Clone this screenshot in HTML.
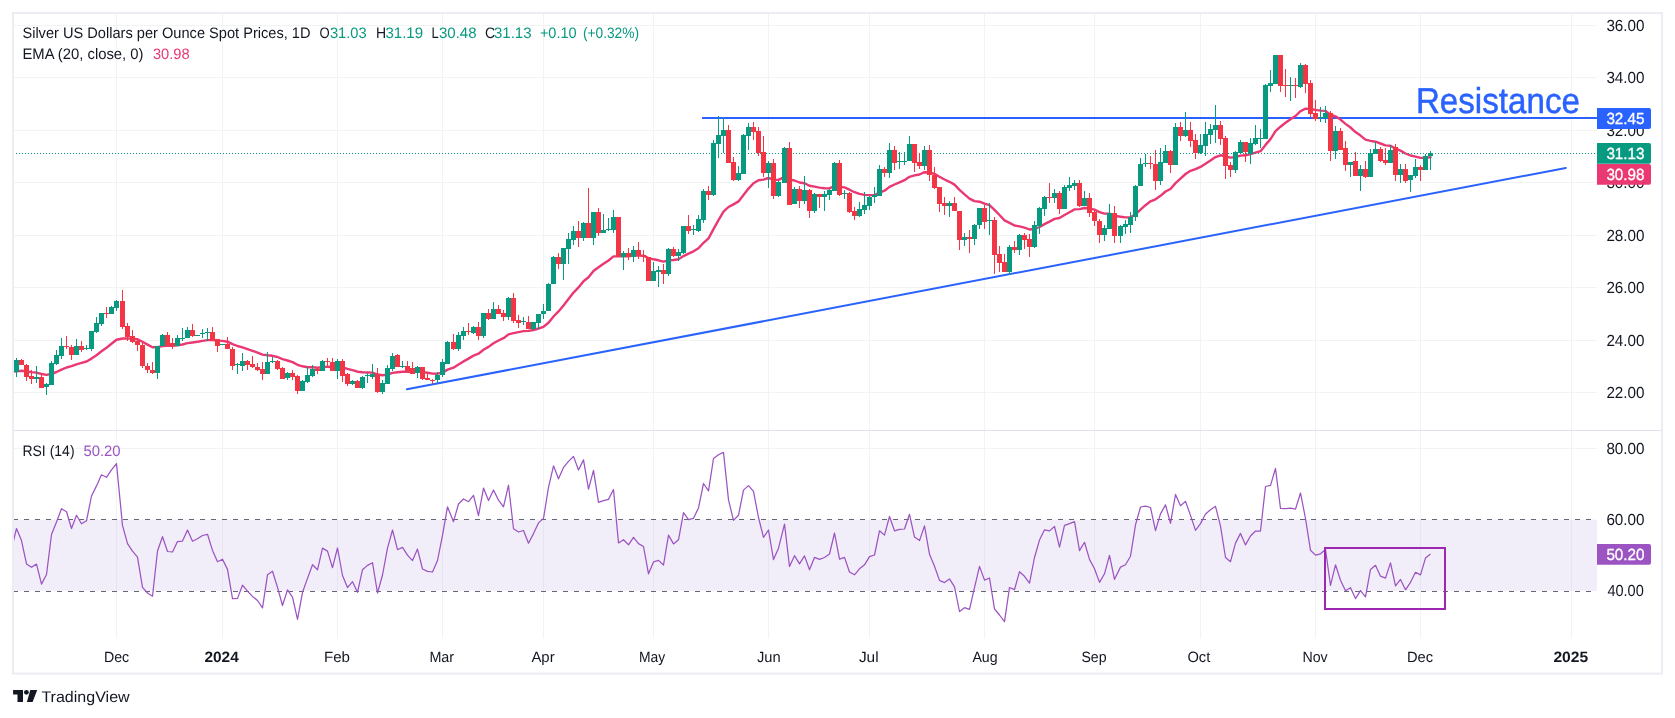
<!DOCTYPE html>
<html><head><meta charset="utf-8"><title>Silver chart</title>
<style>html,body{margin:0;padding:0;background:#fff;}body{width:1675px;height:718px;overflow:hidden;font-family:"Liberation Sans",sans-serif;}svg{display:block;will-change:transform;}</style>
</head><body>
<svg width="1675" height="718" viewBox="0 0 1675 718" font-family="Liberation Sans, sans-serif" text-rendering="geometricPrecision">
<defs><clipPath id="pane"><rect x="13" y="14" width="1584" height="624"/></clipPath></defs>
<rect x="0" y="0" width="1675" height="718" fill="#ffffff"/>
<line x1="14" x2="1597" y1="25.50" y2="25.50" stroke="#f2f4f4" stroke-width="1"/>
<line x1="14" x2="1597" y1="77.50" y2="77.50" stroke="#f2f4f4" stroke-width="1"/>
<line x1="14" x2="1597" y1="130.50" y2="130.50" stroke="#f2f4f4" stroke-width="1"/>
<line x1="14" x2="1597" y1="182.50" y2="182.50" stroke="#f2f4f4" stroke-width="1"/>
<line x1="14" x2="1597" y1="235.50" y2="235.50" stroke="#f2f4f4" stroke-width="1"/>
<line x1="14" x2="1597" y1="287.50" y2="287.50" stroke="#f2f4f4" stroke-width="1"/>
<line x1="14" x2="1597" y1="340.50" y2="340.50" stroke="#f2f4f4" stroke-width="1"/>
<line x1="14" x2="1597" y1="392.50" y2="392.50" stroke="#f2f4f4" stroke-width="1"/>
<line x1="116.5" x2="116.5" y1="13" y2="638.4" stroke="#f2f4f4" stroke-width="1"/>
<line x1="222.5" x2="222.5" y1="13" y2="638.4" stroke="#f2f4f4" stroke-width="1"/>
<line x1="337.5" x2="337.5" y1="13" y2="638.4" stroke="#f2f4f4" stroke-width="1"/>
<line x1="442.5" x2="442.5" y1="13" y2="638.4" stroke="#f2f4f4" stroke-width="1"/>
<line x1="543.5" x2="543.5" y1="13" y2="638.4" stroke="#f2f4f4" stroke-width="1"/>
<line x1="653.5" x2="653.5" y1="13" y2="638.4" stroke="#f2f4f4" stroke-width="1"/>
<line x1="768.5" x2="768.5" y1="13" y2="638.4" stroke="#f2f4f4" stroke-width="1"/>
<line x1="869.5" x2="869.5" y1="13" y2="638.4" stroke="#f2f4f4" stroke-width="1"/>
<line x1="984.5" x2="984.5" y1="13" y2="638.4" stroke="#f2f4f4" stroke-width="1"/>
<line x1="1094.5" x2="1094.5" y1="13" y2="638.4" stroke="#f2f4f4" stroke-width="1"/>
<line x1="1200.5" x2="1200.5" y1="13" y2="638.4" stroke="#f2f4f4" stroke-width="1"/>
<line x1="1315.5" x2="1315.5" y1="13" y2="638.4" stroke="#f2f4f4" stroke-width="1"/>
<line x1="1420.5" x2="1420.5" y1="13" y2="638.4" stroke="#f2f4f4" stroke-width="1"/>
<line x1="1571.5" x2="1571.5" y1="13" y2="638.4" stroke="#f2f4f4" stroke-width="1"/>
<line x1="14" x2="1597" y1="448.5" y2="448.5" stroke="#f2f4f4" stroke-width="1"/>
<rect x="14" y="519.60" width="1583" height="71.30" fill="#7e57c2" fill-opacity="0.1"/>
<line x1="13" x2="1597" y1="519.5" y2="519.5" stroke="#646772" stroke-width="1" stroke-dasharray="5 6"/>
<line x1="13" x2="1597" y1="591.5" y2="591.5" stroke="#646772" stroke-width="1" stroke-dasharray="5 6"/>
<line x1="13" x2="1662" y1="430.5" y2="430.5" stroke="#e0e3eb" stroke-width="1"/>
<line x1="702" x2="1597" y1="118" y2="118" stroke="#2962ff" stroke-width="2"/>
<line x1="406.9" y1="389.3" x2="1565.8" y2="168.0" stroke="#2962ff" stroke-width="2" stroke-linecap="round"/>
<polyline fill="none" stroke="#ea3873" stroke-width="2.4" stroke-linejoin="round" stroke-linecap="round" clip-path="url(#pane)" points="11.5,371.6 16.5,371.4 21.5,370.8 26.5,371.4 31.5,372.1 36.5,372.6 41.5,374.0 46.5,374.9 51.5,373.8 56.5,372.0 61.5,369.6 66.5,367.5 71.5,366.2 76.5,364.3 81.5,362.9 86.5,361.5 91.5,358.6 96.5,355.2 101.5,351.2 106.5,347.7 111.5,343.8 116.5,339.7 122.5,338.5 127.5,338.4 132.5,338.7 137.5,339.3 142.5,341.8 147.5,344.6 152.5,347.3 157.5,347.1 162.5,346.0 167.5,345.9 172.5,345.9 177.5,345.2 182.5,344.5 187.5,343.1 192.5,342.5 197.5,341.8 202.5,340.9 207.5,340.1 212.5,340.0 217.5,340.6 222.5,340.9 227.5,341.7 232.5,344.1 237.5,346.0 242.5,347.4 247.5,349.1 252.5,350.8 257.5,352.6 262.5,354.6 267.5,355.3 272.5,355.8 277.5,357.0 282.5,359.1 287.5,360.5 292.5,362.1 297.5,364.8 302.5,366.3 307.5,367.2 312.5,367.3 317.5,367.7 322.5,367.1 327.5,366.6 332.5,367.0 337.5,366.4 342.5,367.3 347.5,368.9 352.5,370.1 357.5,371.7 362.5,372.3 367.5,372.5 372.5,372.6 377.5,374.5 382.5,375.3 387.5,374.6 392.5,372.9 397.5,372.3 402.5,371.7 407.5,371.6 412.5,371.8 417.5,371.4 422.5,372.1 427.5,372.8 432.5,373.6 437.5,373.7 442.5,372.6 447.5,369.6 453.5,367.7 458.5,364.6 463.5,361.4 468.5,358.6 473.5,355.6 478.5,353.7 483.5,349.8 488.5,346.9 493.5,343.3 498.5,340.5 503.5,338.2 508.5,334.4 513.5,333.1 518.5,332.1 523.5,331.1 528.5,330.9 533.5,330.0 538.5,328.5 543.5,326.8 548.5,322.8 553.5,316.5 558.5,311.4 563.5,305.4 568.5,299.1 573.5,292.6 578.5,287.4 583.5,281.2 588.5,277.2 593.5,271.0 598.5,267.3 603.5,263.8 608.5,260.5 613.5,256.4 618.5,256.4 623.5,256.1 628.5,256.2 633.5,255.6 638.5,255.6 643.5,255.7 648.5,258.1 653.5,259.3 658.5,260.3 663.5,261.6 668.5,260.4 673.5,260.0 678.5,259.2 683.5,256.1 688.5,253.6 693.5,251.3 698.5,248.3 703.5,242.8 708.5,238.3 713.5,229.2 718.5,220.2 723.5,211.7 728.5,207.0 733.5,204.4 738.5,201.4 743.5,195.1 748.5,188.6 753.5,183.2 758.5,180.3 763.5,179.6 768.5,178.0 773.5,179.7 778.5,179.9 784.5,176.9 789.5,179.6 794.5,180.5 799.5,182.5 804.5,183.2 809.5,185.8 814.5,186.6 819.5,187.6 824.5,188.2 829.5,188.4 834.5,186.0 839.5,186.9 844.5,187.4 849.5,189.7 854.5,192.2 859.5,193.9 864.5,194.9 869.5,195.1 874.5,195.1 879.5,192.6 884.5,190.7 889.5,186.9 894.5,184.5 899.5,182.3 904.5,180.2 909.5,176.8 914.5,175.4 919.5,174.5 924.5,172.2 929.5,172.5 934.5,173.9 939.5,176.8 944.5,179.5 949.5,181.8 954.5,184.6 959.5,189.9 964.5,194.4 969.5,198.6 974.5,201.1 979.5,201.7 984.5,203.7 989.5,205.2 994.5,209.9 999.5,215.0 1004.5,220.4 1009.5,222.9 1014.5,225.5 1019.5,226.4 1024.5,227.6 1029.5,229.5 1034.5,229.0 1039.5,227.0 1044.5,224.1 1049.5,221.6 1054.5,218.9 1059.5,218.0 1064.5,215.0 1069.5,212.2 1074.5,209.4 1079.5,209.1 1084.5,208.0 1089.5,208.5 1094.5,209.7 1099.5,212.1 1104.5,213.6 1109.5,213.6 1114.5,215.8 1120.5,216.7 1125.5,217.4 1130.5,217.4 1135.5,214.4 1140.5,209.6 1145.5,205.2 1150.5,201.3 1155.5,199.3 1160.5,195.8 1165.5,191.5 1170.5,189.0 1175.5,183.1 1180.5,178.6 1185.5,174.0 1190.5,170.8 1195.5,169.1 1200.5,166.9 1205.5,163.7 1210.5,160.4 1215.5,157.1 1220.5,155.3 1225.5,156.3 1230.5,157.6 1235.5,157.1 1240.5,155.6 1245.5,155.3 1250.5,154.1 1255.5,152.6 1260.5,151.2 1265.5,144.9 1270.5,139.1 1275.5,131.1 1280.5,126.7 1285.5,122.8 1290.5,119.2 1295.5,116.0 1300.5,111.2 1305.5,108.6 1310.5,109.0 1315.5,109.9 1320.5,110.6 1325.5,110.9 1330.5,114.7 1335.5,116.3 1340.5,119.6 1345.5,123.9 1350.5,127.5 1355.5,132.1 1360.5,135.6 1365.5,139.6 1370.5,140.9 1375.5,141.7 1380.5,143.5 1385.5,145.4 1390.5,145.8 1395.5,148.6 1400.5,150.6 1405.5,153.5 1410.5,155.5 1415.5,156.6 1420.5,157.9 1425.5,157.7 1430.5,157.3"/>
<line x1="13" x2="1597" y1="153.5" y2="153.5" stroke="#089981" stroke-width="1" stroke-dasharray="1 2"/>
<rect x="16.00" y="358.00" width="1" height="19.00" fill="#089981"/>
<rect x="14.00" y="360.00" width="5" height="12.00" fill="#089981"/>
<rect x="21.00" y="359.00" width="1" height="6.00" fill="#f23645"/>
<rect x="19.00" y="360.00" width="5" height="5.00" fill="#f23645"/>
<rect x="26.00" y="364.00" width="1" height="17.00" fill="#f23645"/>
<rect x="24.00" y="365.00" width="5" height="12.00" fill="#f23645"/>
<rect x="31.00" y="370.00" width="1" height="14.00" fill="#f23645"/>
<rect x="29.00" y="376.00" width="5" height="3.00" fill="#f23645"/>
<rect x="36.00" y="366.00" width="1" height="17.00" fill="#089981"/>
<rect x="34.00" y="377.00" width="5" height="2.00" fill="#089981"/>
<rect x="41.00" y="374.00" width="1" height="14.00" fill="#f23645"/>
<rect x="39.00" y="377.00" width="5" height="11.00" fill="#f23645"/>
<rect x="46.00" y="383.00" width="1" height="12.00" fill="#089981"/>
<rect x="44.00" y="384.00" width="5" height="3.00" fill="#089981"/>
<rect x="51.00" y="361.00" width="1" height="24.00" fill="#089981"/>
<rect x="49.00" y="363.00" width="5" height="22.00" fill="#089981"/>
<rect x="56.00" y="350.00" width="1" height="15.00" fill="#089981"/>
<rect x="54.00" y="355.00" width="5" height="9.00" fill="#089981"/>
<rect x="61.00" y="338.00" width="1" height="21.00" fill="#089981"/>
<rect x="59.00" y="346.00" width="5" height="10.00" fill="#089981"/>
<rect x="66.00" y="336.00" width="1" height="13.00" fill="#f23645"/>
<rect x="64.00" y="346.00" width="5" height="1.00" fill="#f23645"/>
<rect x="71.00" y="345.00" width="1" height="15.00" fill="#f23645"/>
<rect x="69.00" y="347.00" width="5" height="8.00" fill="#f23645"/>
<rect x="76.00" y="339.00" width="1" height="16.00" fill="#089981"/>
<rect x="74.00" y="346.00" width="5" height="9.00" fill="#089981"/>
<rect x="81.00" y="341.00" width="1" height="11.00" fill="#f23645"/>
<rect x="79.00" y="346.00" width="5" height="4.00" fill="#f23645"/>
<rect x="86.00" y="345.00" width="1" height="5.00" fill="#089981"/>
<rect x="84.00" y="348.00" width="5" height="1.00" fill="#089981"/>
<rect x="91.00" y="331.00" width="1" height="20.00" fill="#089981"/>
<rect x="89.00" y="331.00" width="5" height="18.00" fill="#089981"/>
<rect x="96.00" y="317.00" width="1" height="16.00" fill="#089981"/>
<rect x="94.00" y="323.00" width="5" height="9.00" fill="#089981"/>
<rect x="101.00" y="313.00" width="1" height="13.00" fill="#089981"/>
<rect x="99.00" y="313.00" width="5" height="11.00" fill="#089981"/>
<rect x="106.00" y="307.00" width="1" height="11.00" fill="#f23645"/>
<rect x="104.00" y="313.00" width="5" height="1.00" fill="#f23645"/>
<rect x="111.00" y="306.00" width="1" height="8.00" fill="#089981"/>
<rect x="109.00" y="307.00" width="5" height="7.00" fill="#089981"/>
<rect x="116.00" y="300.00" width="1" height="11.00" fill="#089981"/>
<rect x="114.00" y="301.00" width="5" height="7.00" fill="#089981"/>
<rect x="122.00" y="290.00" width="1" height="39.00" fill="#f23645"/>
<rect x="120.00" y="301.00" width="5" height="26.00" fill="#f23645"/>
<rect x="127.00" y="323.00" width="1" height="18.00" fill="#f23645"/>
<rect x="125.00" y="326.00" width="5" height="11.00" fill="#f23645"/>
<rect x="132.00" y="330.00" width="1" height="13.00" fill="#f23645"/>
<rect x="130.00" y="336.00" width="5" height="6.00" fill="#f23645"/>
<rect x="137.00" y="338.00" width="1" height="13.00" fill="#f23645"/>
<rect x="135.00" y="341.00" width="5" height="4.00" fill="#f23645"/>
<rect x="142.00" y="343.00" width="1" height="25.00" fill="#f23645"/>
<rect x="140.00" y="345.00" width="5" height="21.00" fill="#f23645"/>
<rect x="147.00" y="363.00" width="1" height="10.00" fill="#f23645"/>
<rect x="145.00" y="366.00" width="5" height="4.00" fill="#f23645"/>
<rect x="152.00" y="362.00" width="1" height="12.00" fill="#f23645"/>
<rect x="150.00" y="370.00" width="5" height="3.00" fill="#f23645"/>
<rect x="157.00" y="346.00" width="1" height="33.00" fill="#089981"/>
<rect x="155.00" y="346.00" width="5" height="27.00" fill="#089981"/>
<rect x="162.00" y="334.00" width="1" height="12.00" fill="#089981"/>
<rect x="160.00" y="335.00" width="5" height="11.00" fill="#089981"/>
<rect x="167.00" y="332.00" width="1" height="14.00" fill="#f23645"/>
<rect x="165.00" y="335.00" width="5" height="10.00" fill="#f23645"/>
<rect x="172.00" y="338.00" width="1" height="11.00" fill="#f23645"/>
<rect x="170.00" y="343.00" width="5" height="3.00" fill="#f23645"/>
<rect x="177.00" y="335.00" width="1" height="11.00" fill="#089981"/>
<rect x="175.00" y="338.00" width="5" height="8.00" fill="#089981"/>
<rect x="182.00" y="328.00" width="1" height="13.00" fill="#089981"/>
<rect x="180.00" y="338.00" width="5" height="1.00" fill="#089981"/>
<rect x="187.00" y="327.00" width="1" height="11.00" fill="#089981"/>
<rect x="185.00" y="330.00" width="5" height="8.00" fill="#089981"/>
<rect x="192.00" y="324.00" width="1" height="13.00" fill="#f23645"/>
<rect x="190.00" y="330.00" width="5" height="6.00" fill="#f23645"/>
<rect x="197.00" y="335.00" width="1" height="1.00" fill="#089981"/>
<rect x="195.00" y="335.00" width="5" height="1.00" fill="#089981"/>
<rect x="202.00" y="329.00" width="1" height="9.00" fill="#089981"/>
<rect x="200.00" y="333.00" width="5" height="1.00" fill="#089981"/>
<rect x="207.00" y="328.00" width="1" height="13.00" fill="#089981"/>
<rect x="205.00" y="332.00" width="5" height="1.00" fill="#089981"/>
<rect x="212.00" y="327.00" width="1" height="14.00" fill="#f23645"/>
<rect x="210.00" y="332.00" width="5" height="8.00" fill="#f23645"/>
<rect x="217.00" y="339.00" width="1" height="13.00" fill="#f23645"/>
<rect x="215.00" y="339.00" width="5" height="7.00" fill="#f23645"/>
<rect x="222.00" y="344.00" width="1" height="1.00" fill="#089981"/>
<rect x="220.00" y="344.00" width="5" height="1.00" fill="#089981"/>
<rect x="227.00" y="337.00" width="1" height="12.00" fill="#f23645"/>
<rect x="225.00" y="344.00" width="5" height="5.00" fill="#f23645"/>
<rect x="232.00" y="347.00" width="1" height="23.00" fill="#f23645"/>
<rect x="230.00" y="349.00" width="5" height="17.00" fill="#f23645"/>
<rect x="237.00" y="363.00" width="1" height="11.00" fill="#089981"/>
<rect x="235.00" y="364.00" width="5" height="1.00" fill="#089981"/>
<rect x="242.00" y="353.00" width="1" height="18.00" fill="#089981"/>
<rect x="240.00" y="361.00" width="5" height="5.00" fill="#089981"/>
<rect x="247.00" y="360.00" width="1" height="10.00" fill="#f23645"/>
<rect x="245.00" y="361.00" width="5" height="4.00" fill="#f23645"/>
<rect x="252.00" y="356.00" width="1" height="12.00" fill="#f23645"/>
<rect x="250.00" y="364.00" width="5" height="3.00" fill="#f23645"/>
<rect x="257.00" y="363.00" width="1" height="8.00" fill="#f23645"/>
<rect x="255.00" y="367.00" width="5" height="3.00" fill="#f23645"/>
<rect x="262.00" y="362.00" width="1" height="18.00" fill="#f23645"/>
<rect x="260.00" y="369.00" width="5" height="5.00" fill="#f23645"/>
<rect x="267.00" y="352.00" width="1" height="22.00" fill="#089981"/>
<rect x="265.00" y="362.00" width="5" height="12.00" fill="#089981"/>
<rect x="272.00" y="357.00" width="1" height="6.00" fill="#089981"/>
<rect x="270.00" y="361.00" width="5" height="1.00" fill="#089981"/>
<rect x="277.00" y="360.00" width="1" height="10.00" fill="#f23645"/>
<rect x="275.00" y="361.00" width="5" height="8.00" fill="#f23645"/>
<rect x="282.00" y="367.00" width="1" height="12.00" fill="#f23645"/>
<rect x="280.00" y="368.00" width="5" height="11.00" fill="#f23645"/>
<rect x="287.00" y="372.00" width="1" height="8.00" fill="#089981"/>
<rect x="285.00" y="373.00" width="5" height="5.00" fill="#089981"/>
<rect x="292.00" y="370.00" width="1" height="10.00" fill="#f23645"/>
<rect x="290.00" y="373.00" width="5" height="4.00" fill="#f23645"/>
<rect x="297.00" y="375.00" width="1" height="19.00" fill="#f23645"/>
<rect x="295.00" y="376.00" width="5" height="15.00" fill="#f23645"/>
<rect x="302.00" y="380.00" width="1" height="11.00" fill="#089981"/>
<rect x="300.00" y="381.00" width="5" height="10.00" fill="#089981"/>
<rect x="307.00" y="367.00" width="1" height="16.00" fill="#089981"/>
<rect x="305.00" y="375.00" width="5" height="7.00" fill="#089981"/>
<rect x="312.00" y="365.00" width="1" height="12.00" fill="#089981"/>
<rect x="310.00" y="369.00" width="5" height="7.00" fill="#089981"/>
<rect x="317.00" y="367.00" width="1" height="7.00" fill="#f23645"/>
<rect x="315.00" y="369.00" width="5" height="2.00" fill="#f23645"/>
<rect x="322.00" y="360.00" width="1" height="11.00" fill="#089981"/>
<rect x="320.00" y="361.00" width="5" height="10.00" fill="#089981"/>
<rect x="327.00" y="358.00" width="1" height="8.00" fill="#f23645"/>
<rect x="325.00" y="361.00" width="5" height="1.00" fill="#f23645"/>
<rect x="332.00" y="358.00" width="1" height="13.00" fill="#f23645"/>
<rect x="330.00" y="362.00" width="5" height="9.00" fill="#f23645"/>
<rect x="337.00" y="359.00" width="1" height="20.00" fill="#089981"/>
<rect x="335.00" y="361.00" width="5" height="10.00" fill="#089981"/>
<rect x="342.00" y="359.00" width="1" height="23.00" fill="#f23645"/>
<rect x="340.00" y="361.00" width="5" height="15.00" fill="#f23645"/>
<rect x="347.00" y="373.00" width="1" height="13.00" fill="#f23645"/>
<rect x="345.00" y="374.00" width="5" height="10.00" fill="#f23645"/>
<rect x="352.00" y="380.00" width="1" height="5.00" fill="#089981"/>
<rect x="350.00" y="381.00" width="5" height="3.00" fill="#089981"/>
<rect x="357.00" y="380.00" width="1" height="8.00" fill="#f23645"/>
<rect x="355.00" y="381.00" width="5" height="7.00" fill="#f23645"/>
<rect x="362.00" y="376.00" width="1" height="13.00" fill="#089981"/>
<rect x="360.00" y="377.00" width="5" height="11.00" fill="#089981"/>
<rect x="367.00" y="373.00" width="1" height="10.00" fill="#089981"/>
<rect x="365.00" y="375.00" width="5" height="1.00" fill="#089981"/>
<rect x="372.00" y="364.00" width="1" height="15.00" fill="#089981"/>
<rect x="370.00" y="374.00" width="5" height="3.00" fill="#089981"/>
<rect x="377.00" y="368.00" width="1" height="25.00" fill="#f23645"/>
<rect x="375.00" y="374.00" width="5" height="18.00" fill="#f23645"/>
<rect x="382.00" y="380.00" width="1" height="14.00" fill="#089981"/>
<rect x="380.00" y="383.00" width="5" height="9.00" fill="#089981"/>
<rect x="387.00" y="365.00" width="1" height="19.00" fill="#089981"/>
<rect x="385.00" y="368.00" width="5" height="16.00" fill="#089981"/>
<rect x="392.00" y="353.00" width="1" height="18.00" fill="#089981"/>
<rect x="390.00" y="356.00" width="5" height="13.00" fill="#089981"/>
<rect x="397.00" y="354.00" width="1" height="13.00" fill="#f23645"/>
<rect x="395.00" y="355.00" width="5" height="12.00" fill="#f23645"/>
<rect x="402.00" y="361.00" width="1" height="7.00" fill="#089981"/>
<rect x="400.00" y="366.00" width="5" height="1.00" fill="#089981"/>
<rect x="407.00" y="361.00" width="1" height="11.00" fill="#f23645"/>
<rect x="405.00" y="366.00" width="5" height="5.00" fill="#f23645"/>
<rect x="412.00" y="362.00" width="1" height="12.00" fill="#f23645"/>
<rect x="410.00" y="368.00" width="5" height="6.00" fill="#f23645"/>
<rect x="417.00" y="366.00" width="1" height="12.00" fill="#089981"/>
<rect x="415.00" y="367.00" width="5" height="6.00" fill="#089981"/>
<rect x="422.00" y="367.00" width="1" height="13.00" fill="#f23645"/>
<rect x="420.00" y="367.00" width="5" height="12.00" fill="#f23645"/>
<rect x="427.00" y="372.00" width="1" height="8.00" fill="#f23645"/>
<rect x="425.00" y="378.00" width="5" height="2.00" fill="#f23645"/>
<rect x="432.00" y="379.00" width="1" height="5.00" fill="#f23645"/>
<rect x="430.00" y="380.00" width="5" height="1.00" fill="#f23645"/>
<rect x="437.00" y="372.00" width="1" height="11.00" fill="#089981"/>
<rect x="435.00" y="375.00" width="5" height="5.00" fill="#089981"/>
<rect x="442.00" y="359.00" width="1" height="18.00" fill="#089981"/>
<rect x="440.00" y="362.00" width="5" height="13.00" fill="#089981"/>
<rect x="447.00" y="341.00" width="1" height="23.00" fill="#089981"/>
<rect x="445.00" y="342.00" width="5" height="22.00" fill="#089981"/>
<rect x="453.00" y="334.00" width="1" height="16.00" fill="#f23645"/>
<rect x="451.00" y="342.00" width="5" height="7.00" fill="#f23645"/>
<rect x="458.00" y="332.00" width="1" height="19.00" fill="#089981"/>
<rect x="456.00" y="335.00" width="5" height="14.00" fill="#089981"/>
<rect x="463.00" y="327.00" width="1" height="13.00" fill="#089981"/>
<rect x="461.00" y="331.00" width="5" height="5.00" fill="#089981"/>
<rect x="468.00" y="323.00" width="1" height="12.00" fill="#f23645"/>
<rect x="466.00" y="331.00" width="5" height="1.00" fill="#f23645"/>
<rect x="473.00" y="326.00" width="1" height="8.00" fill="#089981"/>
<rect x="471.00" y="327.00" width="5" height="6.00" fill="#089981"/>
<rect x="478.00" y="322.00" width="1" height="18.00" fill="#f23645"/>
<rect x="476.00" y="327.00" width="5" height="9.00" fill="#f23645"/>
<rect x="483.00" y="313.00" width="1" height="25.00" fill="#089981"/>
<rect x="481.00" y="313.00" width="5" height="23.00" fill="#089981"/>
<rect x="488.00" y="309.00" width="1" height="11.00" fill="#f23645"/>
<rect x="486.00" y="313.00" width="5" height="6.00" fill="#f23645"/>
<rect x="493.00" y="302.00" width="1" height="17.00" fill="#089981"/>
<rect x="491.00" y="309.00" width="5" height="10.00" fill="#089981"/>
<rect x="498.00" y="305.00" width="1" height="9.00" fill="#f23645"/>
<rect x="496.00" y="309.00" width="5" height="5.00" fill="#f23645"/>
<rect x="503.00" y="310.00" width="1" height="11.00" fill="#f23645"/>
<rect x="501.00" y="313.00" width="5" height="4.00" fill="#f23645"/>
<rect x="508.00" y="297.00" width="1" height="23.00" fill="#089981"/>
<rect x="506.00" y="298.00" width="5" height="19.00" fill="#089981"/>
<rect x="513.00" y="293.00" width="1" height="30.00" fill="#f23645"/>
<rect x="511.00" y="298.00" width="5" height="23.00" fill="#f23645"/>
<rect x="518.00" y="315.00" width="1" height="13.00" fill="#f23645"/>
<rect x="516.00" y="320.00" width="5" height="3.00" fill="#f23645"/>
<rect x="523.00" y="317.00" width="1" height="8.00" fill="#089981"/>
<rect x="521.00" y="321.00" width="5" height="1.00" fill="#089981"/>
<rect x="528.00" y="316.00" width="1" height="13.00" fill="#f23645"/>
<rect x="526.00" y="322.00" width="5" height="7.00" fill="#f23645"/>
<rect x="533.00" y="322.00" width="1" height="8.00" fill="#089981"/>
<rect x="531.00" y="322.00" width="5" height="7.00" fill="#089981"/>
<rect x="538.00" y="314.00" width="1" height="15.00" fill="#089981"/>
<rect x="536.00" y="314.00" width="5" height="9.00" fill="#089981"/>
<rect x="543.00" y="304.00" width="1" height="15.00" fill="#089981"/>
<rect x="541.00" y="311.00" width="5" height="3.00" fill="#089981"/>
<rect x="548.00" y="283.00" width="1" height="28.00" fill="#089981"/>
<rect x="546.00" y="284.00" width="5" height="27.00" fill="#089981"/>
<rect x="553.00" y="256.00" width="1" height="28.00" fill="#089981"/>
<rect x="551.00" y="257.00" width="5" height="27.00" fill="#089981"/>
<rect x="558.00" y="253.00" width="1" height="16.00" fill="#f23645"/>
<rect x="556.00" y="257.00" width="5" height="7.00" fill="#f23645"/>
<rect x="563.00" y="248.00" width="1" height="32.00" fill="#089981"/>
<rect x="561.00" y="248.00" width="5" height="16.00" fill="#089981"/>
<rect x="568.00" y="233.00" width="1" height="31.00" fill="#089981"/>
<rect x="566.00" y="239.00" width="5" height="10.00" fill="#089981"/>
<rect x="573.00" y="226.00" width="1" height="19.00" fill="#089981"/>
<rect x="571.00" y="231.00" width="5" height="9.00" fill="#089981"/>
<rect x="578.00" y="221.00" width="1" height="26.00" fill="#f23645"/>
<rect x="576.00" y="231.00" width="5" height="7.00" fill="#f23645"/>
<rect x="583.00" y="222.00" width="1" height="19.00" fill="#089981"/>
<rect x="581.00" y="223.00" width="5" height="15.00" fill="#089981"/>
<rect x="588.00" y="188.00" width="1" height="50.00" fill="#f23645"/>
<rect x="586.00" y="223.00" width="5" height="15.00" fill="#f23645"/>
<rect x="593.00" y="212.00" width="1" height="33.00" fill="#089981"/>
<rect x="591.00" y="212.00" width="5" height="26.00" fill="#089981"/>
<rect x="598.00" y="208.00" width="1" height="28.00" fill="#f23645"/>
<rect x="596.00" y="212.00" width="5" height="21.00" fill="#f23645"/>
<rect x="603.00" y="214.00" width="1" height="19.00" fill="#089981"/>
<rect x="601.00" y="230.00" width="5" height="3.00" fill="#089981"/>
<rect x="608.00" y="218.00" width="1" height="13.00" fill="#089981"/>
<rect x="606.00" y="229.00" width="5" height="1.00" fill="#089981"/>
<rect x="613.00" y="210.00" width="1" height="23.00" fill="#089981"/>
<rect x="611.00" y="217.00" width="5" height="13.00" fill="#089981"/>
<rect x="618.00" y="217.00" width="1" height="40.00" fill="#f23645"/>
<rect x="616.00" y="217.00" width="5" height="40.00" fill="#f23645"/>
<rect x="623.00" y="251.00" width="1" height="19.00" fill="#089981"/>
<rect x="621.00" y="253.00" width="5" height="4.00" fill="#089981"/>
<rect x="628.00" y="248.00" width="1" height="12.00" fill="#f23645"/>
<rect x="626.00" y="253.00" width="5" height="4.00" fill="#f23645"/>
<rect x="633.00" y="246.00" width="1" height="16.00" fill="#089981"/>
<rect x="631.00" y="250.00" width="5" height="7.00" fill="#089981"/>
<rect x="638.00" y="242.00" width="1" height="17.00" fill="#f23645"/>
<rect x="636.00" y="250.00" width="5" height="5.00" fill="#f23645"/>
<rect x="643.00" y="250.00" width="1" height="12.00" fill="#f23645"/>
<rect x="641.00" y="255.00" width="5" height="2.00" fill="#f23645"/>
<rect x="648.00" y="257.00" width="1" height="24.00" fill="#f23645"/>
<rect x="646.00" y="257.00" width="5" height="24.00" fill="#f23645"/>
<rect x="653.00" y="262.00" width="1" height="19.00" fill="#089981"/>
<rect x="651.00" y="271.00" width="5" height="10.00" fill="#089981"/>
<rect x="658.00" y="266.00" width="1" height="21.00" fill="#089981"/>
<rect x="656.00" y="270.00" width="5" height="2.00" fill="#089981"/>
<rect x="663.00" y="264.00" width="1" height="20.00" fill="#f23645"/>
<rect x="661.00" y="270.00" width="5" height="4.00" fill="#f23645"/>
<rect x="668.00" y="248.00" width="1" height="28.00" fill="#089981"/>
<rect x="666.00" y="249.00" width="5" height="25.00" fill="#089981"/>
<rect x="673.00" y="247.00" width="1" height="10.00" fill="#f23645"/>
<rect x="671.00" y="249.00" width="5" height="7.00" fill="#f23645"/>
<rect x="678.00" y="249.00" width="1" height="12.00" fill="#089981"/>
<rect x="676.00" y="252.00" width="5" height="4.00" fill="#089981"/>
<rect x="683.00" y="226.00" width="1" height="28.00" fill="#089981"/>
<rect x="681.00" y="226.00" width="5" height="27.00" fill="#089981"/>
<rect x="688.00" y="215.00" width="1" height="19.00" fill="#f23645"/>
<rect x="686.00" y="226.00" width="5" height="5.00" fill="#f23645"/>
<rect x="693.00" y="225.00" width="1" height="10.00" fill="#089981"/>
<rect x="691.00" y="229.00" width="5" height="1.00" fill="#089981"/>
<rect x="698.00" y="215.00" width="1" height="17.00" fill="#089981"/>
<rect x="696.00" y="219.00" width="5" height="12.00" fill="#089981"/>
<rect x="703.00" y="189.00" width="1" height="34.00" fill="#089981"/>
<rect x="701.00" y="191.00" width="5" height="29.00" fill="#089981"/>
<rect x="708.00" y="186.00" width="1" height="14.00" fill="#f23645"/>
<rect x="706.00" y="191.00" width="5" height="4.00" fill="#f23645"/>
<rect x="713.00" y="140.00" width="1" height="56.00" fill="#089981"/>
<rect x="711.00" y="143.00" width="5" height="52.00" fill="#089981"/>
<rect x="718.00" y="116.00" width="1" height="42.00" fill="#089981"/>
<rect x="716.00" y="135.00" width="5" height="9.00" fill="#089981"/>
<rect x="723.00" y="117.00" width="1" height="36.00" fill="#089981"/>
<rect x="721.00" y="130.00" width="5" height="6.00" fill="#089981"/>
<rect x="728.00" y="125.00" width="1" height="38.00" fill="#f23645"/>
<rect x="726.00" y="130.00" width="5" height="33.00" fill="#f23645"/>
<rect x="733.00" y="157.00" width="1" height="24.00" fill="#f23645"/>
<rect x="731.00" y="162.00" width="5" height="18.00" fill="#f23645"/>
<rect x="738.00" y="166.00" width="1" height="15.00" fill="#089981"/>
<rect x="736.00" y="173.00" width="5" height="7.00" fill="#089981"/>
<rect x="743.00" y="134.00" width="1" height="40.00" fill="#089981"/>
<rect x="741.00" y="135.00" width="5" height="39.00" fill="#089981"/>
<rect x="748.00" y="123.00" width="1" height="27.00" fill="#089981"/>
<rect x="746.00" y="127.00" width="5" height="9.00" fill="#089981"/>
<rect x="753.00" y="122.00" width="1" height="18.00" fill="#f23645"/>
<rect x="751.00" y="127.00" width="5" height="5.00" fill="#f23645"/>
<rect x="758.00" y="127.00" width="1" height="29.00" fill="#f23645"/>
<rect x="756.00" y="131.00" width="5" height="22.00" fill="#f23645"/>
<rect x="763.00" y="136.00" width="1" height="41.00" fill="#f23645"/>
<rect x="761.00" y="152.00" width="5" height="21.00" fill="#f23645"/>
<rect x="768.00" y="161.00" width="1" height="27.00" fill="#089981"/>
<rect x="766.00" y="163.00" width="5" height="10.00" fill="#089981"/>
<rect x="773.00" y="159.00" width="1" height="40.00" fill="#f23645"/>
<rect x="771.00" y="163.00" width="5" height="33.00" fill="#f23645"/>
<rect x="778.00" y="181.00" width="1" height="16.00" fill="#089981"/>
<rect x="776.00" y="182.00" width="5" height="14.00" fill="#089981"/>
<rect x="784.00" y="147.00" width="1" height="36.00" fill="#089981"/>
<rect x="782.00" y="148.00" width="5" height="35.00" fill="#089981"/>
<rect x="789.00" y="142.00" width="1" height="63.00" fill="#f23645"/>
<rect x="787.00" y="148.00" width="5" height="57.00" fill="#f23645"/>
<rect x="794.00" y="187.00" width="1" height="17.00" fill="#089981"/>
<rect x="792.00" y="189.00" width="5" height="15.00" fill="#089981"/>
<rect x="799.00" y="186.00" width="1" height="22.00" fill="#f23645"/>
<rect x="797.00" y="189.00" width="5" height="12.00" fill="#f23645"/>
<rect x="804.00" y="176.00" width="1" height="28.00" fill="#089981"/>
<rect x="802.00" y="190.00" width="5" height="11.00" fill="#089981"/>
<rect x="809.00" y="189.00" width="1" height="29.00" fill="#f23645"/>
<rect x="807.00" y="190.00" width="5" height="21.00" fill="#f23645"/>
<rect x="814.00" y="193.00" width="1" height="20.00" fill="#089981"/>
<rect x="812.00" y="194.00" width="5" height="17.00" fill="#089981"/>
<rect x="819.00" y="194.00" width="1" height="14.00" fill="#f23645"/>
<rect x="817.00" y="194.00" width="5" height="3.00" fill="#f23645"/>
<rect x="824.00" y="191.00" width="1" height="20.00" fill="#089981"/>
<rect x="822.00" y="194.00" width="5" height="3.00" fill="#089981"/>
<rect x="829.00" y="189.00" width="1" height="11.00" fill="#089981"/>
<rect x="827.00" y="190.00" width="5" height="5.00" fill="#089981"/>
<rect x="834.00" y="162.00" width="1" height="29.00" fill="#089981"/>
<rect x="832.00" y="163.00" width="5" height="28.00" fill="#089981"/>
<rect x="839.00" y="160.00" width="1" height="36.00" fill="#f23645"/>
<rect x="837.00" y="163.00" width="5" height="32.00" fill="#f23645"/>
<rect x="844.00" y="190.00" width="1" height="9.00" fill="#089981"/>
<rect x="842.00" y="193.00" width="5" height="1.00" fill="#089981"/>
<rect x="849.00" y="192.00" width="1" height="21.00" fill="#f23645"/>
<rect x="847.00" y="193.00" width="5" height="19.00" fill="#f23645"/>
<rect x="854.00" y="207.00" width="1" height="13.00" fill="#f23645"/>
<rect x="852.00" y="211.00" width="5" height="5.00" fill="#f23645"/>
<rect x="859.00" y="202.00" width="1" height="15.00" fill="#089981"/>
<rect x="857.00" y="209.00" width="5" height="7.00" fill="#089981"/>
<rect x="864.00" y="192.00" width="1" height="22.00" fill="#089981"/>
<rect x="862.00" y="205.00" width="5" height="5.00" fill="#089981"/>
<rect x="869.00" y="196.00" width="1" height="14.00" fill="#089981"/>
<rect x="867.00" y="197.00" width="5" height="9.00" fill="#089981"/>
<rect x="874.00" y="187.00" width="1" height="16.00" fill="#089981"/>
<rect x="872.00" y="195.00" width="5" height="2.00" fill="#089981"/>
<rect x="879.00" y="165.00" width="1" height="31.00" fill="#089981"/>
<rect x="877.00" y="169.00" width="5" height="27.00" fill="#089981"/>
<rect x="884.00" y="167.00" width="1" height="10.00" fill="#f23645"/>
<rect x="882.00" y="169.00" width="5" height="4.00" fill="#f23645"/>
<rect x="889.00" y="143.00" width="1" height="35.00" fill="#089981"/>
<rect x="887.00" y="150.00" width="5" height="23.00" fill="#089981"/>
<rect x="894.00" y="146.00" width="1" height="24.00" fill="#f23645"/>
<rect x="892.00" y="150.00" width="5" height="13.00" fill="#f23645"/>
<rect x="899.00" y="152.00" width="1" height="17.00" fill="#089981"/>
<rect x="897.00" y="161.00" width="5" height="1.00" fill="#089981"/>
<rect x="904.00" y="152.00" width="1" height="13.00" fill="#089981"/>
<rect x="902.00" y="161.00" width="5" height="1.00" fill="#089981"/>
<rect x="909.00" y="136.00" width="1" height="25.00" fill="#089981"/>
<rect x="907.00" y="144.00" width="5" height="17.00" fill="#089981"/>
<rect x="914.00" y="144.00" width="1" height="28.00" fill="#f23645"/>
<rect x="912.00" y="144.00" width="5" height="19.00" fill="#f23645"/>
<rect x="919.00" y="153.00" width="1" height="16.00" fill="#f23645"/>
<rect x="917.00" y="162.00" width="5" height="4.00" fill="#f23645"/>
<rect x="924.00" y="146.00" width="1" height="24.00" fill="#089981"/>
<rect x="922.00" y="150.00" width="5" height="16.00" fill="#089981"/>
<rect x="929.00" y="145.00" width="1" height="36.00" fill="#f23645"/>
<rect x="927.00" y="150.00" width="5" height="25.00" fill="#f23645"/>
<rect x="934.00" y="167.00" width="1" height="22.00" fill="#f23645"/>
<rect x="932.00" y="175.00" width="5" height="13.00" fill="#f23645"/>
<rect x="939.00" y="187.00" width="1" height="25.00" fill="#f23645"/>
<rect x="937.00" y="187.00" width="5" height="17.00" fill="#f23645"/>
<rect x="944.00" y="197.00" width="1" height="18.00" fill="#f23645"/>
<rect x="942.00" y="203.00" width="5" height="3.00" fill="#f23645"/>
<rect x="949.00" y="201.00" width="1" height="16.00" fill="#089981"/>
<rect x="947.00" y="203.00" width="5" height="3.00" fill="#089981"/>
<rect x="954.00" y="197.00" width="1" height="14.00" fill="#f23645"/>
<rect x="952.00" y="203.00" width="5" height="8.00" fill="#f23645"/>
<rect x="959.00" y="211.00" width="1" height="39.00" fill="#f23645"/>
<rect x="957.00" y="211.00" width="5" height="29.00" fill="#f23645"/>
<rect x="964.00" y="233.00" width="1" height="13.00" fill="#089981"/>
<rect x="962.00" y="237.00" width="5" height="3.00" fill="#089981"/>
<rect x="969.00" y="230.00" width="1" height="23.00" fill="#f23645"/>
<rect x="967.00" y="237.00" width="5" height="2.00" fill="#f23645"/>
<rect x="974.00" y="224.00" width="1" height="21.00" fill="#089981"/>
<rect x="972.00" y="225.00" width="5" height="14.00" fill="#089981"/>
<rect x="979.00" y="208.00" width="1" height="21.00" fill="#089981"/>
<rect x="977.00" y="208.00" width="5" height="17.00" fill="#089981"/>
<rect x="984.00" y="205.00" width="1" height="24.00" fill="#f23645"/>
<rect x="982.00" y="208.00" width="5" height="14.00" fill="#f23645"/>
<rect x="989.00" y="203.00" width="1" height="32.00" fill="#089981"/>
<rect x="987.00" y="220.00" width="5" height="1.00" fill="#089981"/>
<rect x="994.00" y="217.00" width="1" height="57.00" fill="#f23645"/>
<rect x="992.00" y="220.00" width="5" height="35.00" fill="#f23645"/>
<rect x="999.00" y="246.00" width="1" height="26.00" fill="#f23645"/>
<rect x="997.00" y="254.00" width="5" height="9.00" fill="#f23645"/>
<rect x="1004.00" y="254.00" width="1" height="18.00" fill="#f23645"/>
<rect x="1002.00" y="262.00" width="5" height="10.00" fill="#f23645"/>
<rect x="1009.00" y="245.00" width="1" height="30.00" fill="#089981"/>
<rect x="1007.00" y="247.00" width="5" height="25.00" fill="#089981"/>
<rect x="1014.00" y="241.00" width="1" height="12.00" fill="#f23645"/>
<rect x="1012.00" y="247.00" width="5" height="3.00" fill="#f23645"/>
<rect x="1019.00" y="234.00" width="1" height="21.00" fill="#089981"/>
<rect x="1017.00" y="235.00" width="5" height="15.00" fill="#089981"/>
<rect x="1024.00" y="233.00" width="1" height="16.00" fill="#f23645"/>
<rect x="1022.00" y="235.00" width="5" height="5.00" fill="#f23645"/>
<rect x="1029.00" y="234.00" width="1" height="23.00" fill="#f23645"/>
<rect x="1027.00" y="239.00" width="5" height="8.00" fill="#f23645"/>
<rect x="1034.00" y="221.00" width="1" height="27.00" fill="#089981"/>
<rect x="1032.00" y="225.00" width="5" height="22.00" fill="#089981"/>
<rect x="1039.00" y="207.00" width="1" height="27.00" fill="#089981"/>
<rect x="1037.00" y="208.00" width="5" height="18.00" fill="#089981"/>
<rect x="1044.00" y="196.00" width="1" height="20.00" fill="#089981"/>
<rect x="1042.00" y="197.00" width="5" height="12.00" fill="#089981"/>
<rect x="1049.00" y="183.00" width="1" height="20.00" fill="#f23645"/>
<rect x="1047.00" y="197.00" width="5" height="1.00" fill="#f23645"/>
<rect x="1054.00" y="189.00" width="1" height="14.00" fill="#089981"/>
<rect x="1052.00" y="193.00" width="5" height="5.00" fill="#089981"/>
<rect x="1059.00" y="191.00" width="1" height="23.00" fill="#f23645"/>
<rect x="1057.00" y="193.00" width="5" height="16.00" fill="#f23645"/>
<rect x="1064.00" y="185.00" width="1" height="24.00" fill="#089981"/>
<rect x="1062.00" y="187.00" width="5" height="22.00" fill="#089981"/>
<rect x="1069.00" y="177.00" width="1" height="14.00" fill="#089981"/>
<rect x="1067.00" y="185.00" width="5" height="3.00" fill="#089981"/>
<rect x="1074.00" y="180.00" width="1" height="10.00" fill="#089981"/>
<rect x="1072.00" y="183.00" width="5" height="3.00" fill="#089981"/>
<rect x="1079.00" y="180.00" width="1" height="27.00" fill="#f23645"/>
<rect x="1077.00" y="183.00" width="5" height="23.00" fill="#f23645"/>
<rect x="1084.00" y="191.00" width="1" height="15.00" fill="#089981"/>
<rect x="1082.00" y="198.00" width="5" height="8.00" fill="#089981"/>
<rect x="1089.00" y="193.00" width="1" height="24.00" fill="#f23645"/>
<rect x="1087.00" y="198.00" width="5" height="15.00" fill="#f23645"/>
<rect x="1094.00" y="210.00" width="1" height="16.00" fill="#f23645"/>
<rect x="1092.00" y="212.00" width="5" height="9.00" fill="#f23645"/>
<rect x="1099.00" y="219.00" width="1" height="24.00" fill="#f23645"/>
<rect x="1097.00" y="221.00" width="5" height="14.00" fill="#f23645"/>
<rect x="1104.00" y="225.00" width="1" height="16.00" fill="#089981"/>
<rect x="1102.00" y="228.00" width="5" height="7.00" fill="#089981"/>
<rect x="1109.00" y="204.00" width="1" height="25.00" fill="#089981"/>
<rect x="1107.00" y="213.00" width="5" height="16.00" fill="#089981"/>
<rect x="1114.00" y="206.00" width="1" height="37.00" fill="#f23645"/>
<rect x="1112.00" y="213.00" width="5" height="23.00" fill="#f23645"/>
<rect x="1120.00" y="225.00" width="1" height="18.00" fill="#089981"/>
<rect x="1118.00" y="226.00" width="5" height="10.00" fill="#089981"/>
<rect x="1125.00" y="220.00" width="1" height="14.00" fill="#089981"/>
<rect x="1123.00" y="224.00" width="5" height="3.00" fill="#089981"/>
<rect x="1130.00" y="212.00" width="1" height="21.00" fill="#089981"/>
<rect x="1128.00" y="217.00" width="5" height="8.00" fill="#089981"/>
<rect x="1135.00" y="185.00" width="1" height="36.00" fill="#089981"/>
<rect x="1133.00" y="186.00" width="5" height="31.00" fill="#089981"/>
<rect x="1140.00" y="158.00" width="1" height="28.00" fill="#089981"/>
<rect x="1138.00" y="164.00" width="5" height="22.00" fill="#089981"/>
<rect x="1145.00" y="154.00" width="1" height="13.00" fill="#089981"/>
<rect x="1143.00" y="163.00" width="5" height="1.00" fill="#089981"/>
<rect x="1150.00" y="156.00" width="1" height="13.00" fill="#f23645"/>
<rect x="1148.00" y="163.00" width="5" height="1.00" fill="#f23645"/>
<rect x="1155.00" y="150.00" width="1" height="40.00" fill="#f23645"/>
<rect x="1153.00" y="164.00" width="5" height="17.00" fill="#f23645"/>
<rect x="1160.00" y="148.00" width="1" height="37.00" fill="#089981"/>
<rect x="1158.00" y="162.00" width="5" height="19.00" fill="#089981"/>
<rect x="1165.00" y="145.00" width="1" height="18.00" fill="#089981"/>
<rect x="1163.00" y="151.00" width="5" height="12.00" fill="#089981"/>
<rect x="1170.00" y="150.00" width="1" height="23.00" fill="#f23645"/>
<rect x="1168.00" y="151.00" width="5" height="14.00" fill="#f23645"/>
<rect x="1175.00" y="123.00" width="1" height="42.00" fill="#089981"/>
<rect x="1173.00" y="127.00" width="5" height="38.00" fill="#089981"/>
<rect x="1180.00" y="122.00" width="1" height="19.00" fill="#f23645"/>
<rect x="1178.00" y="127.00" width="5" height="9.00" fill="#f23645"/>
<rect x="1185.00" y="112.00" width="1" height="25.00" fill="#089981"/>
<rect x="1183.00" y="130.00" width="5" height="6.00" fill="#089981"/>
<rect x="1190.00" y="122.00" width="1" height="25.00" fill="#f23645"/>
<rect x="1188.00" y="130.00" width="5" height="11.00" fill="#f23645"/>
<rect x="1195.00" y="134.00" width="1" height="25.00" fill="#f23645"/>
<rect x="1193.00" y="140.00" width="5" height="13.00" fill="#f23645"/>
<rect x="1200.00" y="134.00" width="1" height="20.00" fill="#089981"/>
<rect x="1198.00" y="145.00" width="5" height="8.00" fill="#089981"/>
<rect x="1205.00" y="122.00" width="1" height="34.00" fill="#089981"/>
<rect x="1203.00" y="134.00" width="5" height="12.00" fill="#089981"/>
<rect x="1210.00" y="124.00" width="1" height="20.00" fill="#089981"/>
<rect x="1208.00" y="129.00" width="5" height="6.00" fill="#089981"/>
<rect x="1215.00" y="105.00" width="1" height="38.00" fill="#089981"/>
<rect x="1213.00" y="125.00" width="5" height="5.00" fill="#089981"/>
<rect x="1220.00" y="121.00" width="1" height="24.00" fill="#f23645"/>
<rect x="1218.00" y="125.00" width="5" height="14.00" fill="#f23645"/>
<rect x="1225.00" y="136.00" width="1" height="43.00" fill="#f23645"/>
<rect x="1223.00" y="138.00" width="5" height="28.00" fill="#f23645"/>
<rect x="1230.00" y="162.00" width="1" height="15.00" fill="#f23645"/>
<rect x="1228.00" y="165.00" width="5" height="5.00" fill="#f23645"/>
<rect x="1235.00" y="151.00" width="1" height="22.00" fill="#089981"/>
<rect x="1233.00" y="152.00" width="5" height="18.00" fill="#089981"/>
<rect x="1240.00" y="140.00" width="1" height="14.00" fill="#089981"/>
<rect x="1238.00" y="142.00" width="5" height="11.00" fill="#089981"/>
<rect x="1245.00" y="142.00" width="1" height="20.00" fill="#f23645"/>
<rect x="1243.00" y="142.00" width="5" height="10.00" fill="#f23645"/>
<rect x="1250.00" y="138.00" width="1" height="26.00" fill="#089981"/>
<rect x="1248.00" y="143.00" width="5" height="11.00" fill="#089981"/>
<rect x="1255.00" y="125.00" width="1" height="20.00" fill="#089981"/>
<rect x="1253.00" y="138.00" width="5" height="6.00" fill="#089981"/>
<rect x="1260.00" y="129.00" width="1" height="19.00" fill="#089981"/>
<rect x="1258.00" y="138.00" width="5" height="1.00" fill="#089981"/>
<rect x="1265.00" y="84.00" width="1" height="55.00" fill="#089981"/>
<rect x="1263.00" y="85.00" width="5" height="54.00" fill="#089981"/>
<rect x="1270.00" y="70.00" width="1" height="22.00" fill="#089981"/>
<rect x="1268.00" y="83.00" width="5" height="3.00" fill="#089981"/>
<rect x="1275.00" y="55.00" width="1" height="29.00" fill="#089981"/>
<rect x="1273.00" y="55.00" width="5" height="29.00" fill="#089981"/>
<rect x="1280.00" y="55.00" width="1" height="37.00" fill="#f23645"/>
<rect x="1278.00" y="55.00" width="5" height="31.00" fill="#f23645"/>
<rect x="1285.00" y="69.00" width="1" height="28.00" fill="#f23645"/>
<rect x="1283.00" y="85.00" width="5" height="1.00" fill="#f23645"/>
<rect x="1290.00" y="77.00" width="1" height="24.00" fill="#089981"/>
<rect x="1288.00" y="85.00" width="5" height="1.00" fill="#089981"/>
<rect x="1295.00" y="78.00" width="1" height="20.00" fill="#f23645"/>
<rect x="1293.00" y="85.00" width="5" height="1.00" fill="#f23645"/>
<rect x="1300.00" y="63.00" width="1" height="25.00" fill="#089981"/>
<rect x="1298.00" y="65.00" width="5" height="22.00" fill="#089981"/>
<rect x="1305.00" y="64.00" width="1" height="29.00" fill="#f23645"/>
<rect x="1303.00" y="65.00" width="5" height="19.00" fill="#f23645"/>
<rect x="1310.00" y="80.00" width="1" height="37.00" fill="#f23645"/>
<rect x="1308.00" y="83.00" width="5" height="31.00" fill="#f23645"/>
<rect x="1315.00" y="100.00" width="1" height="21.00" fill="#f23645"/>
<rect x="1313.00" y="113.00" width="5" height="6.00" fill="#f23645"/>
<rect x="1320.00" y="107.00" width="1" height="15.00" fill="#089981"/>
<rect x="1318.00" y="117.00" width="5" height="1.00" fill="#089981"/>
<rect x="1325.00" y="106.00" width="1" height="17.00" fill="#089981"/>
<rect x="1323.00" y="113.00" width="5" height="5.00" fill="#089981"/>
<rect x="1330.00" y="111.00" width="1" height="50.00" fill="#f23645"/>
<rect x="1328.00" y="113.00" width="5" height="38.00" fill="#f23645"/>
<rect x="1335.00" y="126.00" width="1" height="33.00" fill="#089981"/>
<rect x="1333.00" y="131.00" width="5" height="20.00" fill="#089981"/>
<rect x="1340.00" y="128.00" width="1" height="22.00" fill="#f23645"/>
<rect x="1338.00" y="131.00" width="5" height="19.00" fill="#f23645"/>
<rect x="1345.00" y="141.00" width="1" height="30.00" fill="#f23645"/>
<rect x="1343.00" y="148.00" width="5" height="17.00" fill="#f23645"/>
<rect x="1350.00" y="162.00" width="1" height="15.00" fill="#089981"/>
<rect x="1348.00" y="162.00" width="5" height="3.00" fill="#089981"/>
<rect x="1355.00" y="152.00" width="1" height="24.00" fill="#f23645"/>
<rect x="1353.00" y="161.00" width="5" height="15.00" fill="#f23645"/>
<rect x="1360.00" y="165.00" width="1" height="26.00" fill="#089981"/>
<rect x="1358.00" y="169.00" width="5" height="7.00" fill="#089981"/>
<rect x="1365.00" y="161.00" width="1" height="17.00" fill="#f23645"/>
<rect x="1363.00" y="169.00" width="5" height="8.00" fill="#f23645"/>
<rect x="1370.00" y="149.00" width="1" height="28.00" fill="#089981"/>
<rect x="1368.00" y="153.00" width="5" height="24.00" fill="#089981"/>
<rect x="1375.00" y="142.00" width="1" height="12.00" fill="#089981"/>
<rect x="1373.00" y="149.00" width="5" height="5.00" fill="#089981"/>
<rect x="1380.00" y="147.00" width="1" height="15.00" fill="#f23645"/>
<rect x="1378.00" y="149.00" width="5" height="12.00" fill="#f23645"/>
<rect x="1385.00" y="148.00" width="1" height="17.00" fill="#f23645"/>
<rect x="1383.00" y="160.00" width="5" height="3.00" fill="#f23645"/>
<rect x="1390.00" y="145.00" width="1" height="18.00" fill="#089981"/>
<rect x="1388.00" y="150.00" width="5" height="13.00" fill="#089981"/>
<rect x="1395.00" y="144.00" width="1" height="37.00" fill="#f23645"/>
<rect x="1393.00" y="147.00" width="5" height="28.00" fill="#f23645"/>
<rect x="1400.00" y="164.00" width="1" height="19.00" fill="#089981"/>
<rect x="1398.00" y="169.00" width="5" height="6.00" fill="#089981"/>
<rect x="1405.00" y="164.00" width="1" height="19.00" fill="#f23645"/>
<rect x="1403.00" y="169.00" width="5" height="12.00" fill="#f23645"/>
<rect x="1410.00" y="175.00" width="1" height="17.00" fill="#089981"/>
<rect x="1408.00" y="175.00" width="5" height="5.00" fill="#089981"/>
<rect x="1415.00" y="159.00" width="1" height="19.00" fill="#089981"/>
<rect x="1413.00" y="167.00" width="5" height="9.00" fill="#089981"/>
<rect x="1420.00" y="165.00" width="1" height="16.00" fill="#f23645"/>
<rect x="1418.00" y="167.00" width="5" height="3.00" fill="#f23645"/>
<rect x="1425.00" y="154.00" width="1" height="16.00" fill="#089981"/>
<rect x="1423.00" y="156.00" width="5" height="14.00" fill="#089981"/>
<rect x="1430.00" y="151.00" width="1" height="19.00" fill="#089981"/>
<rect x="1428.00" y="153.00" width="5" height="3.00" fill="#089981"/>
<polyline fill="none" stroke="#9c54c2" stroke-width="1.25" stroke-linejoin="round" clip-path="url(#pane)" points="11.5,549.0 16.5,528.5 21.5,540.6 26.5,563.9 31.5,567.3 36.5,564.1 41.5,584.1 46.5,574.5 51.5,534.5 56.5,521.9 61.5,508.7 66.5,511.7 71.5,528.5 76.5,515.3 81.5,523.8 86.5,520.8 91.5,496.0 96.5,485.9 101.5,474.8 106.5,477.3 111.5,469.8 116.5,463.6 122.5,525.4 127.5,543.6 132.5,551.2 137.5,557.2 142.5,587.3 147.5,593.0 152.5,596.2 157.5,551.0 162.5,536.7 167.5,551.5 172.5,552.0 177.5,541.6 182.5,541.1 187.5,530.1 192.5,541.3 197.5,538.8 202.5,535.5 207.5,534.3 212.5,550.4 217.5,561.8 222.5,559.2 227.5,569.4 232.5,598.7 237.5,598.4 242.5,585.1 247.5,591.1 252.5,596.4 257.5,600.5 262.5,607.9 267.5,574.8 272.5,571.2 277.5,587.4 282.5,605.5 287.5,589.9 292.5,597.2 297.5,619.4 302.5,592.3 307.5,578.4 312.5,564.7 317.5,569.8 322.5,548.1 327.5,551.1 332.5,567.7 337.5,548.0 342.5,575.5 347.5,587.6 352.5,581.7 357.5,592.3 362.5,569.7 367.5,565.4 372.5,562.7 377.5,593.0 382.5,575.0 387.5,548.1 392.5,530.0 397.5,549.7 402.5,547.4 407.5,555.2 412.5,560.6 417.5,549.1 422.5,569.0 427.5,571.4 432.5,572.0 437.5,560.5 442.5,535.4 447.5,506.8 453.5,521.7 458.5,504.0 463.5,499.0 468.5,501.7 473.5,495.3 478.5,515.7 483.5,488.1 488.5,500.6 493.5,490.0 498.5,500.1 503.5,506.8 508.5,485.2 513.5,528.7 518.5,532.0 523.5,530.5 528.5,543.2 533.5,533.6 538.5,522.9 543.5,518.4 548.5,487.4 553.5,465.8 558.5,478.8 563.5,467.4 568.5,461.4 573.5,456.4 578.5,470.0 583.5,459.9 588.5,489.2 593.5,470.3 598.5,502.4 603.5,500.7 608.5,499.4 613.5,489.5 618.5,543.0 623.5,539.7 628.5,544.8 633.5,537.3 638.5,543.6 643.5,546.5 648.5,573.8 653.5,561.9 658.5,560.4 663.5,565.0 668.5,535.1 673.5,543.9 678.5,539.8 683.5,512.6 688.5,519.7 693.5,518.3 698.5,507.9 703.5,483.5 708.5,490.9 713.5,458.5 718.5,454.8 723.5,452.4 728.5,499.9 733.5,520.4 738.5,515.3 743.5,490.1 748.5,485.6 753.5,491.4 758.5,517.5 763.5,537.4 768.5,530.0 773.5,559.6 778.5,548.2 784.5,524.1 789.5,566.5 794.5,555.7 799.5,563.9 804.5,555.9 809.5,569.8 814.5,557.4 819.5,559.4 824.5,557.5 829.5,554.0 834.5,533.0 839.5,559.1 844.5,557.4 849.5,572.0 854.5,574.8 859.5,568.8 864.5,564.8 869.5,556.7 874.5,555.0 879.5,530.8 884.5,535.1 889.5,516.5 894.5,530.8 899.5,529.3 904.5,529.0 909.5,514.3 914.5,537.1 919.5,540.6 924.5,525.9 929.5,554.3 934.5,566.2 939.5,580.4 944.5,582.6 949.5,578.9 954.5,586.9 959.5,611.5 964.5,607.7 969.5,609.3 974.5,587.7 979.5,566.4 984.5,580.1 989.5,578.0 994.5,608.9 999.5,615.0 1004.5,621.7 1009.5,587.5 1014.5,589.6 1019.5,571.7 1024.5,576.3 1029.5,583.2 1034.5,557.5 1039.5,540.1 1044.5,529.8 1049.5,530.9 1054.5,526.5 1059.5,547.2 1064.5,525.4 1069.5,523.6 1074.5,521.7 1079.5,550.6 1084.5,542.3 1089.5,559.4 1094.5,568.8 1099.5,582.4 1104.5,573.8 1109.5,555.3 1114.5,579.3 1120.5,567.1 1125.5,564.7 1130.5,556.2 1135.5,524.9 1140.5,507.0 1145.5,506.1 1150.5,507.5 1155.5,530.6 1160.5,513.9 1165.5,504.9 1170.5,523.3 1175.5,494.5 1180.5,505.7 1185.5,501.4 1190.5,515.4 1195.5,530.4 1200.5,523.6 1205.5,514.0 1210.5,509.7 1215.5,506.3 1220.5,526.1 1225.5,557.5 1230.5,561.7 1235.5,543.1 1240.5,533.4 1245.5,544.9 1250.5,536.0 1255.5,531.0 1260.5,531.0 1265.5,486.5 1270.5,485.4 1275.5,468.5 1280.5,508.5 1285.5,508.7 1290.5,508.2 1295.5,509.1 1300.5,493.0 1305.5,518.5 1310.5,550.3 1315.5,555.1 1320.5,553.8 1325.5,549.5 1330.5,585.4 1335.5,564.8 1340.5,580.3 1345.5,590.8 1350.5,587.7 1355.5,598.6 1360.5,590.6 1365.5,596.9 1370.5,569.4 1375.5,565.3 1380.5,576.2 1385.5,578.1 1390.5,562.9 1395.5,585.8 1400.5,579.4 1405.5,589.8 1410.5,582.3 1415.5,572.3 1420.5,574.9 1425.5,558.1 1430.5,554.0"/>
<rect x="1325" y="548" width="120" height="61" fill="none" stroke="#9c27b0" stroke-width="2"/>
<rect x="13" y="13" width="1649" height="660.6" fill="none" stroke="#ecedf2" stroke-width="2"/>
<text id="l1a" x="22.40" y="37.80" font-size="15.2" fill="#131722" textLength="288.14" lengthAdjust="spacingAndGlyphs">Silver US Dollars per Ounce Spot Prices, 1D</text>
<text id="l1O" x="319.40" y="37.80" font-size="15.2" fill="#131722" textLength="10.20" lengthAdjust="spacingAndGlyphs">O</text>
<text id="l1o" x="329.90" y="37.80" font-size="15.2" fill="#089981" textLength="36.76" lengthAdjust="spacingAndGlyphs">31.03</text>
<text id="l1H" x="375.90" y="37.80" font-size="15.2" fill="#131722" textLength="10.10" lengthAdjust="spacingAndGlyphs">H</text>
<text id="l1h" x="385.40" y="37.80" font-size="15.2" fill="#089981" textLength="37.70" lengthAdjust="spacingAndGlyphs">31.19</text>
<text id="l1L" x="431.40" y="37.80" font-size="15.2" fill="#131722" textLength="7.20" lengthAdjust="spacingAndGlyphs">L</text>
<text id="l1l" x="438.90" y="37.80" font-size="15.2" fill="#089981" textLength="37.70" lengthAdjust="spacingAndGlyphs">30.48</text>
<text id="l1C" x="484.90" y="37.80" font-size="15.2" fill="#131722" textLength="10.12" lengthAdjust="spacingAndGlyphs">C</text>
<text id="l1c" x="493.90" y="37.80" font-size="15.2" fill="#089981" textLength="37.66" lengthAdjust="spacingAndGlyphs">31.13</text>
<text id="l1d" x="539.90" y="37.80" font-size="15.2" fill="#089981" textLength="36.74" lengthAdjust="spacingAndGlyphs">+0.10</text>
<text id="l1p" x="582.90" y="37.80" font-size="15.2" fill="#089981" textLength="56.18" lengthAdjust="spacingAndGlyphs">(+0.32%)</text>
<text id="l2a" x="22.40" y="58.60" font-size="15.2" fill="#131722" textLength="121.14" lengthAdjust="spacingAndGlyphs">EMA (20, close, 0)</text>
<text id="l2v" x="152.90" y="58.60" font-size="15.2" fill="#ea3873" textLength="36.74" lengthAdjust="spacingAndGlyphs">30.98</text>
<text id="r1a" x="22.40" y="456.00" font-size="15.2" fill="#131722" textLength="52.20" lengthAdjust="spacingAndGlyphs">RSI (14)</text>
<text id="r1v" x="83.40" y="456.00" font-size="15.2" fill="#9c54c2" textLength="37.22" lengthAdjust="spacingAndGlyphs">50.20</text>
<text id="ax22" x="1606.40" y="398.05" font-size="16.1" fill="#131722" textLength="38.16" lengthAdjust="spacingAndGlyphs">22.00</text>
<text id="ax24" x="1606.40" y="346.05" font-size="16.1" fill="#131722" textLength="38.16" lengthAdjust="spacingAndGlyphs">24.00</text>
<text id="ax26" x="1606.40" y="293.05" font-size="16.1" fill="#131722" textLength="38.16" lengthAdjust="spacingAndGlyphs">26.00</text>
<text id="ax28" x="1606.40" y="241.05" font-size="16.1" fill="#131722" textLength="38.16" lengthAdjust="spacingAndGlyphs">28.00</text>
<text id="ax30" x="1606.40" y="188.05" font-size="16.1" fill="#131722" textLength="38.16" lengthAdjust="spacingAndGlyphs">30.00</text>
<text id="ax32" x="1606.40" y="136.05" font-size="16.1" fill="#131722" textLength="38.16" lengthAdjust="spacingAndGlyphs">32.00</text>
<text id="ax34" x="1606.40" y="83.05" font-size="16.1" fill="#131722" textLength="38.16" lengthAdjust="spacingAndGlyphs">34.00</text>
<text id="ax36" x="1606.40" y="31.05" font-size="16.1" fill="#131722" textLength="38.16" lengthAdjust="spacingAndGlyphs">36.00</text>
<text id="rx80" x="1606.40" y="454.00" font-size="16.1" fill="#131722" textLength="38.16" lengthAdjust="spacingAndGlyphs">80.00</text>
<text id="rx60" x="1606.40" y="525.00" font-size="16.1" fill="#131722" textLength="38.16" lengthAdjust="spacingAndGlyphs">60.00</text>
<text id="rx40" x="1607.40" y="596.00" font-size="16.1" fill="#131722" textLength="36.36" lengthAdjust="spacingAndGlyphs">40.00</text>
<text id="tm0" x="103.90" y="661.70" font-size="14.9" fill="#131722" textLength="25.24" lengthAdjust="spacingAndGlyphs">Dec</text>
<text id="tm1" x="204.40" y="661.70" font-size="14.9" fill="#131722" font-weight="bold" textLength="34.34" lengthAdjust="spacingAndGlyphs">2024</text>
<text id="tm2" x="323.90" y="661.70" font-size="14.9" fill="#131722" textLength="26.08" lengthAdjust="spacingAndGlyphs">Feb</text>
<text id="tm3" x="429.40" y="661.70" font-size="14.9" fill="#131722" textLength="24.76" lengthAdjust="spacingAndGlyphs">Mar</text>
<text id="tm4" x="531.40" y="661.70" font-size="14.9" fill="#131722" textLength="23.24" lengthAdjust="spacingAndGlyphs">Apr</text>
<text id="tm5" x="638.90" y="661.70" font-size="14.9" fill="#131722" textLength="26.24" lengthAdjust="spacingAndGlyphs">May</text>
<text id="tm6" x="756.90" y="661.70" font-size="14.9" fill="#131722" textLength="23.74" lengthAdjust="spacingAndGlyphs">Jun</text>
<text id="tm7" x="858.90" y="661.70" font-size="14.9" fill="#131722" textLength="19.70" lengthAdjust="spacingAndGlyphs">Jul</text>
<text id="tm8" x="972.40" y="661.70" font-size="14.9" fill="#131722" textLength="25.20" lengthAdjust="spacingAndGlyphs">Aug</text>
<text id="tm9" x="1081.40" y="661.70" font-size="14.9" fill="#131722" textLength="25.18" lengthAdjust="spacingAndGlyphs">Sep</text>
<text id="tm10" x="1187.40" y="661.70" font-size="14.9" fill="#131722" textLength="22.84" lengthAdjust="spacingAndGlyphs">Oct</text>
<text id="tm11" x="1302.40" y="661.70" font-size="14.9" fill="#131722" textLength="25.24" lengthAdjust="spacingAndGlyphs">Nov</text>
<text id="tm12" x="1406.90" y="661.70" font-size="14.9" fill="#131722" textLength="26.14" lengthAdjust="spacingAndGlyphs">Dec</text>
<text id="tm13" x="1553.40" y="661.70" font-size="14.9" fill="#131722" font-weight="bold" textLength="34.80" lengthAdjust="spacingAndGlyphs">2025</text>
<text id="res" x="1415.90" y="112.60" font-size="35.9" fill="#2962ff" stroke="#2962ff" stroke-width="0.5" textLength="164.02" lengthAdjust="spacingAndGlyphs">Resistance</text>
<text id="tv" x="41.40" y="701.90" font-size="15.4" fill="#131722" textLength="88.26" lengthAdjust="spacingAndGlyphs">TradingView</text>
<path d="M1597 108.10 H1649 a2 2 0 0 1 2 2 V126.90 a2 2 0 0 1 -2 2 H1597 Z" fill="#2962ff"/>
<text x="1606.40" y="124.05" font-size="16.1" fill="#ffffff" stroke="#ffffff" stroke-width="0.3" textLength="38.16" lengthAdjust="spacingAndGlyphs">32.45</text>
<path d="M1597 143.05 H1649 a2 2 0 0 1 2 2 V161.85 a2 2 0 0 1 -2 2 H1597 Z" fill="#089981"/>
<text x="1606.40" y="159.00" font-size="16.1" fill="#ffffff" stroke="#ffffff" stroke-width="0.3" textLength="38.16" lengthAdjust="spacingAndGlyphs">31.13</text>
<path d="M1597 163.90 H1649 a2 2 0 0 1 2 2 V182.70 a2 2 0 0 1 -2 2 H1597 Z" fill="#ea3873"/>
<text x="1606.40" y="179.85" font-size="16.1" fill="#ffffff" stroke="#ffffff" stroke-width="0.3" textLength="38.16" lengthAdjust="spacingAndGlyphs">30.98</text>
<path d="M1597 544.00 H1649 a2 2 0 0 1 2 2 V562.80 a2 2 0 0 1 -2 2 H1597 Z" fill="#9c54c2"/>
<text x="1606.40" y="559.95" font-size="16.1" fill="#ffffff" stroke="#ffffff" stroke-width="0.3" textLength="38.16" lengthAdjust="spacingAndGlyphs">50.20</text>
<path d="M13.1 690 H23 V701.9 H17.5 V694.6 H13.1 Z" fill="#131722"/>
<circle cx="26.4" cy="692.35" r="2.4" fill="#131722"/>
<path d="M30.3 690 H37.2 L32.6 701.9 H26.9 Z" fill="#131722"/>
</svg>
</body></html>
